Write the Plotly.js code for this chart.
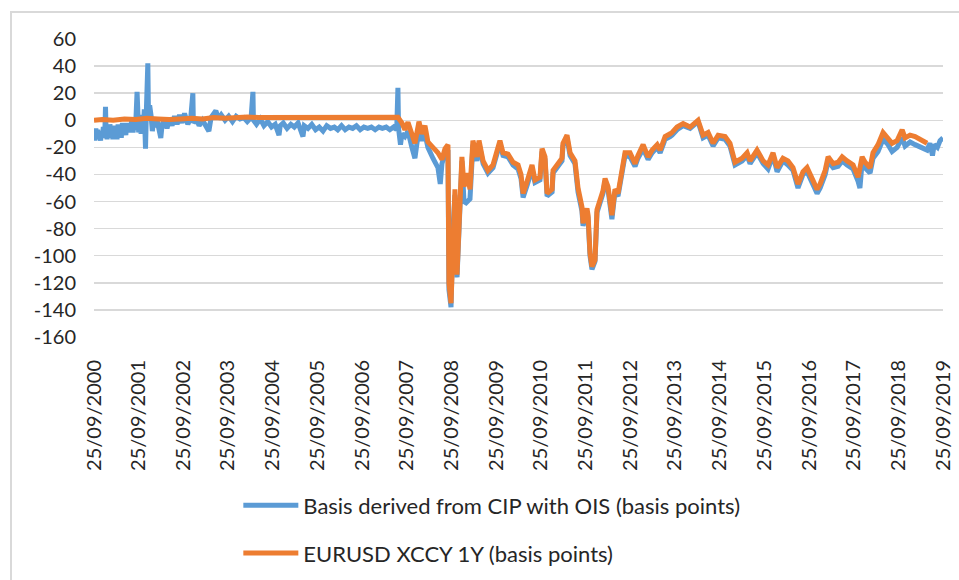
<!DOCTYPE html>
<html>
<head>
<meta charset="utf-8">
<script src="https://cdn.plot.ly/plotly-3.0.1.min.js"></script>
<style>
  html, body { margin: 0; padding: 0; background: #ffffff; overflow: hidden; }
  #wrap { position: relative; width: 959px; height: 580px; overflow: hidden; }
  #frame { position: absolute; left: 10px; top: 11px; width: 980px; height: 600px; border: 2px solid #d9d9d9; box-sizing: border-box; pointer-events: none; }
  #chart { position: absolute; left: 0; top: 0; width: 959px; height: 610px; }
</style>
</head>
<body>
<div id="wrap">
  <div id="chart"></div>
  <div id="frame"></div>
</div>
<script>
// ---- Data ----
const seriesNames = [
  "Basis derived from CIP with OIS (basis points)",
  "EURUSD XCCY 1Y (basis points)"
];

const tickDates = ["2000-09-25","2001-09-25","2002-09-25","2003-09-25","2004-09-25","2005-09-25","2006-09-25","2007-09-25","2008-09-25","2009-09-25","2010-09-25","2011-09-25","2012-09-25","2013-09-25","2014-09-25","2015-09-25","2016-09-25","2017-09-25","2018-09-25","2019-09-25"];
const tickLabels = ["25/09/2000","25/09/2001","25/09/2002","25/09/2003","25/09/2004","25/09/2005","25/09/2006","25/09/2007","25/09/2008","25/09/2009","25/09/2010","25/09/2011","25/09/2012","25/09/2013","25/09/2014","25/09/2015","25/09/2016","25/09/2017","25/09/2018","25/09/2019"];

const yTickVals = [60, 40, 20, 0, -20, -40, -60, -80, -100, -120, -140, -160];
const yTickLabels = ["60", "40", "20", "0", "-20", "-40", "-60", "-80", "-100", "-120", "-140", "-160"];

// Basis derived from CIP with OIS
const basisDates = [
"2000-09-25","2000-10-03","2000-10-10","2000-10-18","2000-10-25","2000-11-03","2000-11-10","2000-11-18","2000-11-25","2000-12-03",
"2000-12-10","2000-12-17","2000-12-24","2000-12-28","2001-01-02","2001-01-10","2001-01-18","2001-01-25","2001-02-02","2001-02-10",
"2001-02-18","2001-02-26","2001-03-06","2001-03-15","2001-03-23","2001-04-01","2001-04-10","2001-04-20","2001-04-28","2001-05-06",
"2001-05-15","2001-05-25","2001-06-03","2001-06-12","2001-06-20","2001-06-30","2001-07-10","2001-07-20","2001-07-30","2001-08-10",
"2001-08-20","2001-08-30","2001-09-12","2001-09-16","2001-09-25","2001-10-05","2001-10-15","2001-10-25","2001-11-02","2001-11-10",
"2001-11-20","2001-11-28","2001-12-09","2001-12-14","2001-12-24","2002-01-05","2002-01-15","2002-01-28","2002-02-10","2002-02-25",
"2002-03-10","2002-03-25","2002-04-05",
"2002-04-25","2002-05-15","2002-06-05","2002-06-25","2002-07-15","2002-08-05","2002-08-25","2002-09-15","2002-10-05","2002-11-01",
"2002-11-25","2002-12-12","2002-12-16","2003-01-10","2003-02-01","2003-03-01","2003-04-22","2003-05-10","2003-06-18","2003-07-10",
"2003-08-01","2003-09-01","2003-10-01","2003-11-01","2003-12-01","2004-01-01","2004-02-01","2004-03-01","2004-04-01","2004-04-16",
"2004-04-20","2004-05-15","2004-06-15","2004-07-15","2004-08-15","2004-09-15","2004-10-15","2004-11-15","2004-11-25","2004-12-20",
"2005-01-20","2005-02-20","2005-03-20","2005-04-20","2005-05-30","2005-06-10","2005-07-10","2005-08-10","2005-09-10","2005-10-10",
"2005-11-10","2005-12-10","2006-01-10","2006-02-10","2006-03-10","2006-04-10","2006-05-10","2006-06-10","2006-07-10","2006-08-10",
"2006-09-10","2006-10-10","2006-11-10","2006-12-10","2007-01-10","2007-02-10","2007-03-10","2007-04-10","2007-05-10","2007-06-10",
"2007-07-05","2007-07-15","2007-07-20","2007-08-05","2007-08-17","2007-09-10","2007-10-05","2007-11-06","2007-12-01","2008-01-03",
"2008-01-27","2008-02-21","2008-03-16","2008-04-26","2008-06-06","2008-06-25","2008-07-09","2008-08-03","2008-08-27","2008-09-04",
"2008-09-21","2008-10-07","2008-10-23","2008-11-09","2008-11-25","2008-12-19","2009-01-05","2009-01-22","2009-02-23","2009-03-19",
"2009-04-21","2009-05-08","2009-06-10","2009-07-20","2009-08-30","2009-10-02","2009-10-26","2009-11-20","2009-12-31","2010-02-10",
"2010-03-23","2010-04-16","2010-05-03","2010-06-05","2010-07-15","2010-08-08","2010-09-18","2010-10-05","2010-10-29","2010-11-15",
"2010-12-26","2011-01-03","2011-02-13","2011-03-17","2011-03-25","2011-04-27","2011-05-22","2011-07-01","2011-07-26","2011-08-27",
"2011-09-05","2011-10-07","2011-10-16","2011-11-01","2011-11-17","2011-12-12","2011-12-28","2012-01-22","2012-02-15","2012-03-03",
"2012-03-27","2012-04-28","2012-05-23","2012-06-17","2012-07-19","2012-08-13","2012-09-23","2012-11-03","2012-11-27","2013-01-08",
"2013-02-18","2013-03-23","2013-05-03","2013-05-27","2013-06-21","2013-07-07","2013-08-17","2013-09-02","2013-10-12","2013-12-01",
"2014-01-27","2014-04-02","2014-05-13","2014-06-23","2014-08-03","2014-09-13","2014-11-09","2014-12-19","2015-01-29","2015-03-28",
"2015-05-08","2015-06-01","2015-07-28","2015-09-16","2015-10-26","2015-12-06","2016-01-08","2016-02-25","2016-04-06","2016-05-17",
"2016-06-27","2016-08-07","2016-09-09","2016-10-20","2016-11-30","2016-12-25","2017-02-04","2017-02-28","2017-04-10","2017-05-21",
"2017-06-23","2017-08-02","2017-09-20","2017-10-31","2017-11-15","2017-12-03","2017-12-27","2018-02-06","2018-03-02","2018-04-12",
"2018-05-23","2018-07-03","2018-08-05","2018-09-15","2018-10-26","2018-11-19","2018-12-30","2019-02-09","2019-04-07","2019-05-18",
"2019-06-10","2019-07-01","2019-07-15","2019-08-10","2019-09-01","2019-09-25"
];
const basisValues = [
-8,-15,-6,-13,-7,-14,-9,-15,-8,-13,
-5,-12,-4,10,-9,-14,-6,-13,-3,-11,
-5,-14,-4,-12,-6,-14,-3,-11,-5,-13,
-2,-10,-4,-11,-2,-9,-3,-8,0,-9,
-2,-7,21,-4,-9,-2,-10,4,-6,8,
-21,10,42,6,11,3,-8,2,-5,-1,
-7,-13,-3,
0,-6,2,-4,3,-3,4,-2,5,-3,
2,20,-2,1,-4,0,-8,2,7,1,
4,0,3,-1,3,1,2,-1,2,21,
0,-3,1,-4,-1,-5,-3,-11,-4,-2,
-6,-3,-5,-2,-12,-4,-6,-3,-7,-5,
-8,-4,-6,-5,-7,-4,-7,-5,-6,-4,
-7,-5,-6,-5,-7,-5,-6,-5,-7,-5,
-7,24,-6,-18,-10,-12,-8,-20,-28,-6,
-15,-10,-20,-28,-35,-47,-32,-24,-22,-125,
-138,-80,-55,-116,-75,-30,-60,-61,-58,-18,
-30,-17,-32,-39,-35,-23,-17,-26,-27,-33,
-36,-43,-57,-48,-36,-46,-44,-23,-29,-56,
-53,-39,-33,-30,-19,-13,-26,-32,-53,-67,
-78,-68,-72,-100,-110,-104,-68,-61,-54,-45,
-51,-73,-53,-56,-41,-26,-27,-34,-28,-21,
-29,-24,-20,-24,-18,-14,-12,-11,-7,-4,
-6,-1,-13,-11,-19,-13,-14,-19,-33,-30,
-26,-32,-24,-32,-36,-26,-38,-30,-33,-37,
-50,-40,-38,-47,-54,-50,-40,-30,-35,-34,
-30,-33,-36,-45,-50,-31,-35,-39,-28,-23,
-14,-18,-23,-20,-13,-19,-16,-18,-20,-22,
-17,-26,-18,-20,-15,-13
];

// EURUSD XCCY 1Y
const xccyDates = [
"2000-09-25","2000-12-01","2001-03-01","2001-06-01","2001-09-01","2001-12-01","2002-03-01","2002-06-01","2002-09-01","2002-12-01",
"2003-03-01","2003-06-01","2003-09-01","2003-12-01","2004-03-01","2004-06-01","2004-09-01","2004-12-01","2005-03-01","2005-06-01",
"2005-09-01","2005-12-01","2006-03-01","2006-06-01","2006-09-01","2006-12-01","2007-03-01","2007-06-01","2007-07-15","2007-08-17",
"2007-09-10","2007-10-05","2007-11-06","2007-12-01","2008-01-03","2008-01-27","2008-02-21","2008-03-16","2008-04-26","2008-06-06",
"2008-07-09","2008-08-03","2008-08-27","2008-09-04","2008-09-21","2008-10-07","2008-10-23","2008-11-09","2008-11-25","2008-12-19",
"2009-01-05","2009-01-30","2009-02-23","2009-03-19","2009-04-21","2009-05-08","2009-06-10","2009-07-20","2009-08-30","2009-10-02",
"2009-10-26","2009-11-20","2009-12-31","2010-02-10","2010-03-23","2010-04-16","2010-05-03","2010-06-05","2010-07-15","2010-08-08",
"2010-09-18","2010-10-05","2010-10-29","2010-11-15","2010-12-26","2011-01-03","2011-02-13","2011-03-17","2011-03-25","2011-04-27",
"2011-05-22","2011-07-01","2011-07-26","2011-08-27","2011-09-05","2011-10-07","2011-10-16","2011-11-01","2011-11-17","2011-12-12",
"2011-12-28","2012-01-22","2012-02-15","2012-03-03","2012-03-27","2012-04-28","2012-05-23","2012-06-17","2012-07-19","2012-08-13",
"2012-09-23","2012-11-03","2012-11-27","2013-01-08","2013-02-18","2013-03-23","2013-05-03","2013-05-27","2013-06-21","2013-07-07",
"2013-08-17","2013-09-02","2013-10-12","2013-12-01","2014-01-27","2014-04-02","2014-05-13","2014-06-23","2014-08-03","2014-09-13",
"2014-11-09","2014-12-19","2015-01-29","2015-03-28","2015-05-08","2015-06-01","2015-07-28","2015-09-16","2015-10-26","2015-12-06",
"2016-01-08","2016-02-25","2016-04-06","2016-05-17","2016-06-27","2016-08-07","2016-09-09","2016-10-20","2016-11-30","2016-12-25",
"2017-02-04","2017-02-28","2017-04-10","2017-05-21","2017-06-23","2017-08-02","2017-09-20","2017-10-31","2017-12-03","2017-12-27",
"2018-02-06","2018-03-02","2018-04-12","2018-05-23","2018-07-03","2018-08-05","2018-09-15","2018-10-26","2018-11-19","2018-12-30",
"2019-02-09","2019-04-07","2019-05-18"
];
const xccyValues = [
0,0.5,0,1,0.5,1.5,1,0.5,1,1.5,
1,2,1.5,2,2.5,2,2,2.5,2,2.5,
2,2.5,2,2.5,2.5,2,2.5,2,2.2,-2,
-7,-1.5,-10,-17,-1,-10,-4,-16,-20,-24,
-29,-21,-18,-120,-135,-76,-51,-114,-71,-27,
-49,-39,-51,-15,-27,-15,-30,-37,-33,-21,
-15,-24,-25,-31,-33,-40,-54,-45,-33,-44,
-42,-21,-27,-54,-51,-37,-31,-28,-17,-11,
-24,-30,-50,-64,-76,-65,-70,-98,-108,-103,
-66,-59,-52,-43,-49,-70,-51,-54,-39,-24,
-24,-32,-26,-18,-27,-22,-18,-22,-16,-12,
-10,-9,-5,-2.5,-5,0,-11,-9,-17,-11,
-12,-17,-31,-28,-24,-30,-22,-30,-33,-24,
-35,-28,-30,-35,-47,-38,-35,-44,-51,-47,
-37,-27,-32,-31,-27,-30,-33,-42,-27,-31,
-35,-24,-18,-9,-13,-17,-15,-7,-13,-11,
-12,-15,-17
];

const textColor = "#262626";
const fontFamily = "Lato, 'Open Sans', 'DejaVu Sans', sans-serif";

const traces = [
  {
    x: basisDates, y: basisValues, type: "scatter", mode: "lines",
    name: seriesNames[0], legendgroup: "a",
    line: { color: "#5B9BD5", width: 5 }
  },
  {
    x: xccyDates, y: xccyValues, type: "scatter", mode: "lines",
    name: seriesNames[1], legendgroup: "b",
    line: { color: "#ED7D31", width: 5 }
  }
];

const layout = {
  width: 959, height: 610,
  margin: { l: 94, r: 16, t: 39, b: 273, pad: 0 },
  paper_bgcolor: "#ffffff", plot_bgcolor: "#ffffff",
  font: { family: fontFamily, color: textColor, size: 20 },
  showlegend: true,
  legend: {
    orientation: "v", x: 0.17, xanchor: "left", y: -0.495, yanchor: "top",
    font: { family: fontFamily, size: 22, color: textColor },
    traceorder: "grouped", tracegroupgap: 16, itemwidth: 55,
    bgcolor: "rgba(0,0,0,0)"
  },
  xaxis: {
    type: "date",
    range: ["2000-09-25", "2019-09-25"],
    tickmode: "array", tickvals: tickDates, ticktext: tickLabels,
    tickangle: -90, ticks: "", showgrid: false, zeroline: false, showline: false,
    ticklabelstandoff: 18,
    tickfont: { family: fontFamily, size: 20, color: textColor }
  },
  yaxis: {
    range: [-160, 60],
    tickmode: "array", tickvals: yTickVals, ticktext: yTickLabels,
    showgrid: true, gridcolor: "#d9d9d9", gridwidth: 1.5,
    zeroline: false, showline: false, ticks: "",
    ticklabelstandoff: 17,
    tickfont: { family: fontFamily, size: 20, color: textColor }
  }
};

Plotly.newPlot("chart", traces, layout, { displayModeBar: false, staticPlot: true });
</script>
</body>
</html>
